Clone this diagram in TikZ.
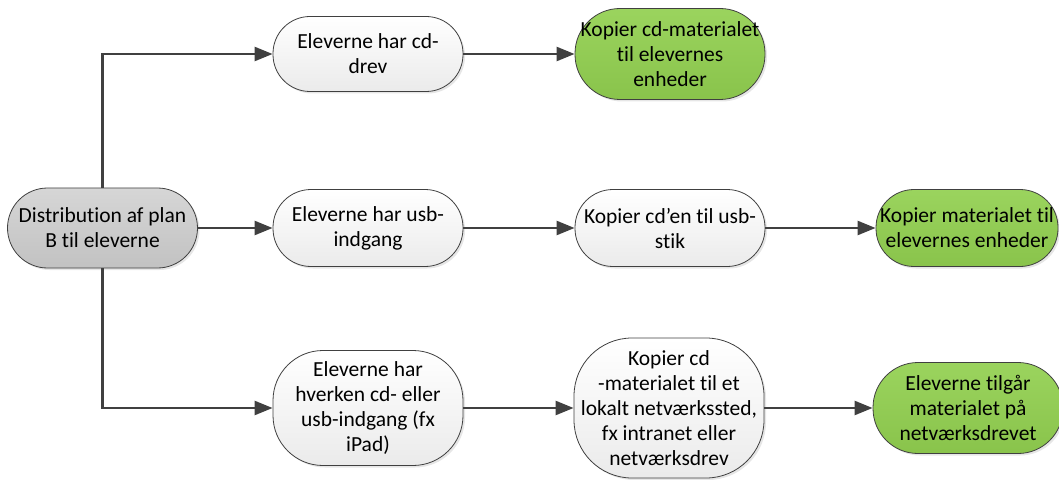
\documentclass[tikz,border=0pt]{standalone}
\usepackage{fontspec}
\setmainfont[Ligatures=NoCommon]{Carlito}
\usetikzlibrary{positioning,arrows.meta,shadows}
\definecolor{linegray}{HTML}{404040}
\definecolor{leafgreen}{HTML}{92D050}
\tikzset{line/.style={draw=linegray, line width=2.4pt, -{Triangle[length=18pt,width=14pt]}}}

\begin{document}
\begin{tikzpicture}[node distance = 174pt and 300pt, on grid]
\tikzstyle{block} = [rectangle, rounded corners=38pt, draw=linegray, line width=0.8pt, top color=white, bottom color=black!8, align=center, minimum width=190pt, minimum height=77pt, inner sep=1pt, font=\fontsize{21.5}{25}\selectfont, drop shadow={opacity=0.2, shadow xshift=2pt, shadow yshift=-2pt}]
\tikzstyle{start} = [block, top color=black!16, bottom color=black!24]
\tikzstyle{goal} = [block, top color=leafgreen!92!white, bottom color=leafgreen!94!black]

\useasboundingbox (-102.5pt,-251pt) rectangle (956.5pt,228pt);

\node [start, minimum height=80pt, rounded corners=40pt](plan){Distribution af plan\\B til eleverne};
\node [block, right=265.5pt of plan](usb){Eleverne har usb-\\indgang};
\node [block, right=302pt of usb](usbcopy){Kopier cd’en til usb-\\stik};
\node [goal, right=297pt of usbcopy, minimum width=182pt](usbdone){Kopier materialet til\\elevernes enheder};
\node [block, above=174pt of usb, minimum height=75pt, rounded corners=37pt](cd){Eleverne har cd-\\drev};
\node [goal, right=302pt of cd, minimum height=91pt, rounded corners=45pt](cdcopy){Kopier cd-materialet\\til elevernes\\enheder};
\node [block, below=180pt of usb, minimum height=115pt, rounded corners=50pt](none){Eleverne har\\hverken cd- eller\\usb-indgang (fx\\iPad)};
\node [block, right=301pt of none, minimum height=140pt, rounded corners=58pt](net){Kopier cd\\-materialet til et\\lokalt netværkssted,\\fx intranet eller\\netværksdrev};
\node [goal, right=299pt of net, minimum height=91pt, rounded corners=45pt](netdone){Eleverne tilgår\\materialet på\\netværksdrevet};

\path [line] (plan.north) |- (cd.west);
\path [line] (plan) -- (usb);
\path [line] (plan.south) |- (none.west);
\path [line] (cd) -- (cdcopy);
\path [line] (usb) -- (usbcopy);
\path [line] (usbcopy) -- (usbdone);
\path [line] (none) -- (net);
\path [line] (net) -- (netdone);

\end{tikzpicture}
\end{document}
